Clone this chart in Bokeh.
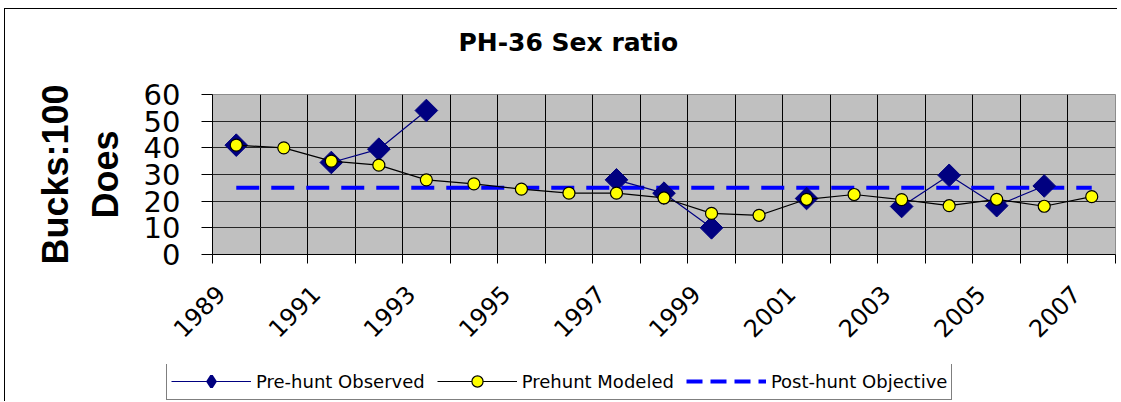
import numpy as np
from math import pi
from bokeh.plotting import figure
from bokeh.layouts import column
from bokeh.models import (ColumnDataSource, Range1d, FixedTicker, Legend,
                          LegendItem, Title)
from bokeh.embed import file_html
from bokeh.resources import INLINE

# ---------------- data ----------------
years = [1989, 1990, 1991, 1992, 1993, 1994, 1995, 1996, 1997, 1998,
         1999, 2000, 2001, 2002, 2003, 2004, 2005, 2006, 2007]
observed = [41, np.nan, 34.5, 39.5, 54, np.nan, np.nan, np.nan, 28, 23,
            10, np.nan, 21, np.nan, 18, 29.7, 18.3, 25.7, np.nan]
modeled = [41, 40, 35, 33.5, 28, 26.5, 24.5, 23, 23, 21.2,
           15.4, 14.7, 20.7, 22.5, 20.6, 18.3, 20.7, 18.1, 21.7]
objective = [25, 25, 25, 25, 25, 25, 25, 25, 25, 25,
             25, 25, 25, 25, 25, 25, 25, 25, 25]
year_labels = [1989, 1991, 1993, 1995, 1997, 1999, 2001, 2003, 2005, 2007]
y_ticks = [0, 10, 20, 30, 40, 50, 60]
series_names = ["Pre-hunt Observed", "Prehunt Modeled", "Post-hunt Objective"]

# styles
OBS_COLOR = "#000080"
OBJ_COLOR = "#0000FF"
MOD_FILL = "#FFFF00"

src = ColumnDataSource(data=dict(
    year=years,
    observed=np.array(observed, dtype=float),
    modeled=np.array(modeled, dtype=float),
    objective=objective,
))

# category boundaries (half-way between years)
bounds = [y - 0.5 for y in years] + [years[-1] + 0.5]

W = 1112
p = figure(width=W, height=355,
           x_range=Range1d(bounds[0], bounds[-1]), y_range=Range1d(0, 60),
           output_backend="svg", toolbar_location=None,
           min_border_left=207, min_border_right=2,
           min_border_top=85, min_border_bottom=110,
           background_fill_color="#C0C0C0", border_fill_color="white",
           outline_line_color="#8c8c8c", outline_line_width=1)

# title (outermost), with a blank spacer between it and the plot area
p.title.text = "PH-36 Sex ratio"
p.title.text_font = "DejaVu Sans"
p.title.text_font_style = "bold"
p.title.text_font_size = "25px"
p.title.text_color = "black"
p.title.align = "left"
p.title.offset = 246
p.title.standoff = 20
p.add_layout(Title(text=" ", text_font_size="10px", standoff=15), "above")

# x axis (labels nudged left of the category centre, as in the original)
label_shift = 0.33
xa = p.xaxis[0]
xa.ticker = FixedTicker(ticks=[y - label_shift for y in year_labels],
                        minor_ticks=bounds)
xa.major_label_overrides = {y - label_shift: str(y) for y in year_labels}
xa.major_tick_out = 0
xa.major_tick_in = 0
xa.minor_tick_out = 9
xa.minor_tick_in = 0
xa.minor_tick_line_color = "black"
xa.axis_line_color = "black"
xa.major_label_orientation = pi / 4
xa.major_label_text_font = "DejaVu Sans"
xa.major_label_text_font_size = "24px"
xa.major_label_text_color = "black"
xa.major_label_standoff = 26

# y axis
ya = p.yaxis[0]
ya.ticker = FixedTicker(ticks=y_ticks)
ya.major_tick_out = 11
ya.major_tick_in = 0
ya.major_tick_line_color = "black"
ya.axis_line_color = "black"
ya.major_label_text_font = "DejaVu Sans"
ya.major_label_text_font_size = "29px"
ya.major_label_text_color = "black"
ya.major_label_standoff = 21
ya.axis_label = "Bucks:100\nDoes"
ya.axis_label_text_font = "Liberation Sans"
ya.axis_label_text_font_style = "bold"
ya.axis_label_text_font_size = "36px"
ya.axis_label_text_color = "black"
ya.axis_label_standoff = 15

# grids
p.xgrid.ticker = FixedTicker(ticks=bounds[1:-1])
p.xgrid.grid_line_color = "black"
p.xgrid.grid_line_width = 1
p.ygrid.ticker = FixedTicker(ticks=y_ticks[1:-1])
p.ygrid.grid_line_color = "#262626"
p.ygrid.grid_line_width = 1

# series
p.line("year", "objective", source=src, line_color=OBJ_COLOR,
       line_width=4, line_dash="23 12")
p.line("year", "observed", source=src, line_color=OBS_COLOR, line_width=1.2)
p.scatter("year", "observed", source=src, marker="square", angle=pi / 4,
          size=16, fill_color=OBS_COLOR, line_color=OBS_COLOR)
p.line("year", "modeled", source=src, line_color="black", line_width=1.2)
p.scatter("year", "modeled", source=src, marker="circle", size=12,
          fill_color=MOD_FILL, line_color="black", line_width=1.2)

# ---------------- legend strip ----------------
# (a strip below the chart; its ranges keep the proxy series out of view)
lg = figure(width=W, height=37, x_range=Range1d(0, 1), y_range=Range1d(0, 1),
            output_backend="svg", toolbar_location=None,
            x_axis_type=None, y_axis_type=None,
            min_border_left=0, min_border_right=0,
            min_border_top=0, min_border_bottom=0,
            background_fill_color="white", border_fill_color="white",
            outline_line_color=None)
lg.grid.visible = False
try:
    lg.frame_align = False
except Exception:
    pass
try:
    p.frame_align = False
except Exception:
    pass

lsrc = ColumnDataSource(data=dict(
    year=years,
    observed=np.array(observed, dtype=float),
    modeled=np.array(modeled, dtype=float),
    objective=objective,
))
l_obs = lg.line("year", "observed", source=lsrc, line_color=OBS_COLOR,
                line_width=1.2)
m_obs = lg.scatter("year", "observed", source=lsrc, marker="diamond",
                   fill_color=OBS_COLOR, line_color=OBS_COLOR, line_width=3)
l_mod = lg.line("year", "modeled", source=lsrc, line_color="black",
                line_width=1.2)
m_mod = lg.scatter("year", "modeled", source=lsrc, marker="circle",
                   fill_color=MOD_FILL, line_color="black", line_width=1.2)
l_obj = lg.line("year", "objective", source=lsrc, line_color=OBJ_COLOR,
                line_width=4, line_dash="16 8")

legend = Legend(items=[
    LegendItem(label=series_names[0], renderers=[l_obs, m_obs]),
    LegendItem(label=series_names[1], renderers=[l_mod, m_mod]),
    LegendItem(label=series_names[2], renderers=[l_obj]),
], orientation="horizontal", location=(161, 1),
    glyph_width=80, glyph_height=28, label_standoff=5, spacing=12,
    padding=4, margin=0,
    border_line_color="black", border_line_width=1,
    background_fill_color="white", background_fill_alpha=1,
    label_text_font="DejaVu Sans", label_text_font_size="18px",
    label_text_color="black")
lg.add_layout(legend, "center")

layout = column(p, lg, spacing=0,
                styles={"border-left": "1px solid black",
                        "border-top": "1px solid black",
                        "margin-left": "4px", "margin-top": "8px"})

open("out.html", "w").write(file_html(layout, INLINE))
